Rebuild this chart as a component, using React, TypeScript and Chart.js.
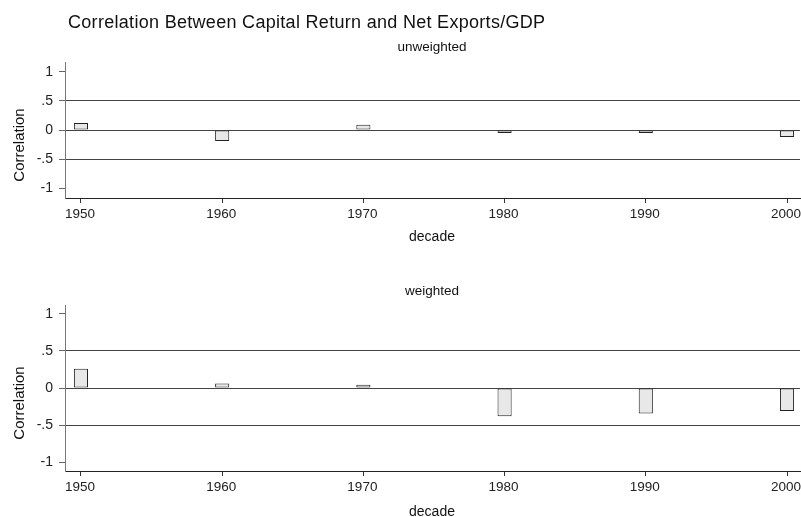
import React, { useEffect, useRef } from "react";
import { Chart, registerables } from "chart.js";

Chart.register(...registerables);

const decades = [1950, 1960, 1970, 1980, 1990, 2000];
const unweighted = [0.12, -0.19, 0.09, -0.05, -0.05, -0.12];
const weighted = [0.26, 0.06, 0.045, -0.38, -0.345, -0.31];
const yTickValues = [-1, -0.5, 0, 0.5, 1];
const yTickLabels = ["-1", "-.5", "0", ".5", "1"];
const gridValues = [-0.5, 0, 0.5];
const mainTitle = "Correlation Between Capital Return and Net Exports/GDP";
const panelTitles = ["unweighted", "weighted"];
const xTitle = "decade";
const yTitle = "Correlation";

const FONT = "'Liberation Sans', Arial, sans-serif";

type PanelProps = {
  values: number[];
  top: number;
  height: number;
  padTop: number;
  axisHeight: number;
  yLim: number;
};

function Panel({ values, top, height, padTop, axisHeight, yLim }: PanelProps) {
  const ref = useRef<HTMLCanvasElement | null>(null);
  useEffect(() => {
    if (!ref.current) return;
    const chart = new Chart(ref.current, {
      type: "bar",
      data: {
        datasets: [
          {
            data: decades.map((d, i) => ({ x: d, y: values[i] })),
            backgroundColor: "#e8e8e8",
            borderColor: "#222222",
            borderWidth: 1,
            borderSkipped: false,
            barPercentage: 0.1,
            categoryPercentage: 1,
          },
        ],
      },
      options: {
        animation: false,
        responsive: false,
        maintainAspectRatio: false,
        layout: { padding: { top: padTop, left: 0, right: 1, bottom: 0 } },
        plugins: { legend: { display: false }, title: { display: false }, tooltip: { enabled: false } },
        scales: {
          x: {
            type: "linear",
            offset: false,
            min: 1948.87,
            max: 2000.92,
            afterBuildTicks: (s: any) => {
              s.ticks = decades.map((v) => ({ value: v }));
            },
            afterFit: (s: any) => {
              s.height = axisHeight;
              s.paddingLeft = 0;
              s.paddingRight = 0;
            },
            ticks: {
              callback: (v: any) => String(v),
              font: { family: FONT, size: 13.5 },
              color: "#222",
              padding: 3,
              labelOffset: -1,
              maxRotation: 0,
              autoSkip: false,
            },
            grid: {
              offset: false,
              drawOnChartArea: false,
              drawTicks: true,
              tickLength: 5,
              tickColor: "#333",
            },
            border: { display: true, color: "#222", width: 1 },
          },
          y: {
            type: "linear",
            min: -yLim,
            max: yLim,
            afterBuildTicks: (s: any) => {
              s.ticks = yTickValues.map((v) => ({ value: v }));
            },
            afterFit: (s: any) => {
              s.width = 65;
              s.paddingTop = 0;
              s.paddingBottom = 0;
            },
            ticks: {
              callback: (v: any) => {
                const i = yTickValues.indexOf(Number(v));
                return i >= 0 ? yTickLabels[i] : "";
              },
              font: { family: FONT, size: 14 },
              color: "#222",
              padding: 6,
            },
            grid: {
              color: (ctx: any) =>
                ctx.tick && gridValues.includes(ctx.tick.value) ? "#444" : "rgba(0,0,0,0)",
              tickColor: "#666",
              tickLength: 6,
              lineWidth: 1,
            },
            border: { display: true, color: "#777", width: 1 },
          },
        },
      },
    });
    return () => chart.destroy();
  }, []);
  return (
    <canvas
      ref={ref}
      width={801}
      height={height}
      style={{ position: "absolute", left: 0, top, width: 801, height }}
    />
  );
}

const textBase: React.CSSProperties = {
  position: "absolute",
  fontFamily: FONT,
  color: "#111",
  whiteSpace: "nowrap",
  lineHeight: "1",
};

export default function App() {
  return (
    <div
      style={{
        position: "absolute",
        left: 0,
        top: 0,
        width: 801,
        height: 517,
        background: "#fff",
        overflow: "hidden",
      }}
    >
      <Panel values={unweighted} top={0} height={258} padTop={62} axisHeight={60} yLim={1.17} />
      <Panel values={weighted} top={258} height={259} padTop={47} axisHeight={46} yLim={1.12} />
      <div style={{ ...textBase, left: 68, top: 13, fontSize: 18, letterSpacing: "0.3px" }}>{mainTitle}</div>
      <div style={{ ...textBase, left: 432, top: 47, fontSize: 13.5, transform: "translate(-50%, -50%)" }}>
        {panelTitles[0]}
      </div>
      <div style={{ ...textBase, left: 432, top: 291, fontSize: 13.5, transform: "translate(-50%, -50%)" }}>
        {panelTitles[1]}
      </div>
      <div style={{ ...textBase, left: 432, top: 236, fontSize: 14, transform: "translate(-50%, -50%)" }}>
        {xTitle}
      </div>
      <div style={{ ...textBase, left: 432, top: 511, fontSize: 14, transform: "translate(-50%, -50%)" }}>
        {xTitle}
      </div>
      <div
        style={{
          ...textBase,
          left: 18,
          top: 145,
          fontSize: 15,
          transform: "translate(-50%, -50%) rotate(-90deg)",
        }}
      >
        {yTitle}
      </div>
      <div
        style={{
          ...textBase,
          left: 18,
          top: 403,
          fontSize: 15,
          transform: "translate(-50%, -50%) rotate(-90deg)",
        }}
      >
        {yTitle}
      </div>
    </div>
  );
}
